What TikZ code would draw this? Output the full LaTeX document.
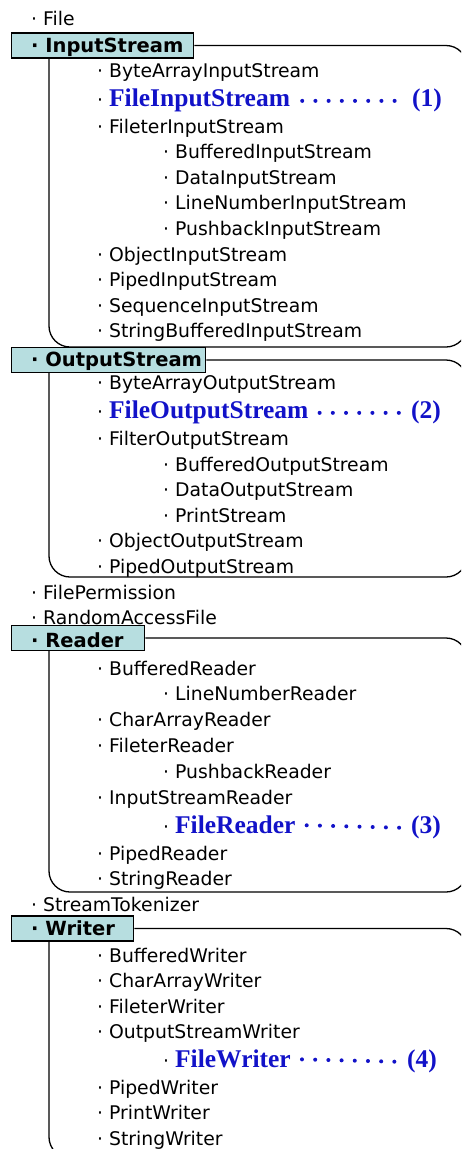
\documentclass[tikz,border=0pt]{standalone}
\usepackage{fontspec}
\setmainfont{DejaVu Sans}
\newfontfamily\keyfont{Liberation Serif}
\definecolor{boxteal}{RGB}{183,222,224}
\definecolor{keyblue}{RGB}{18,18,200}
\tikzset{
    item/.style={anchor=base west, inner sep=0pt, font=\fontsize{18.8}{20}\selectfont},
    key/.style={anchor=base west, inner sep=0pt, text=keyblue, font=\keyfont\bfseries\fontsize{25.5}{27}\selectfont},
    catbox/.style={draw, fill=boxteal, line width=1.3pt, anchor=west, minimum height=25pt, inner sep=0pt},
    cat/.style={anchor=base west, inner sep=0pt, font=\bfseries\fontsize{19.5}{20}\selectfont},
    frame/.style={line width=1.3pt, rounded corners=21pt},
    leader/.style={keyblue, line width=4pt, line cap=round, dash pattern=on 0pt off 13.2pt}
}
\newcommand{\keyname}[1]{{\color{keyblue}\keyfont\bfseries\fontsize{25.5}{27}\selectfont #1}}

\begin{document}
\begin{tikzpicture}[x=1pt, y=-1pt]
    \useasboundingbox (0,0) rectangle (461,1149);
    \clip (0,0) rectangle (461,1149);

    % java.io top level
    \node [item] (file) at (31,25) {· File};

    % InputStream family
    \node [catbox, minimum width=182pt] (inbox) at (11,45.5) {};
    \node [cat] (incat) at (31,52) {· InputStream};
    \draw [frame] (inbox.east) -- (467,0 |- inbox.east) -- (467,347) -- (49,347) -- (49,0 |- inbox.south);
    \node [item] (bais) at (97,77) {· ByteArrayInputStream};
    \node [item] (fis) at (97,106) {· \keyname{FileInputStream}};
    \node [key] (no1) at (412,106) {(1)};
    \draw [leader] ([xshift=12pt,yshift=-1pt]fis.east) -- ([xshift=-15pt,yshift=-1pt]no1.west);
    \node [item] (filis) at (97,133) {· FileterInputStream};
    \node [item] (bis) at (163,158) {· BufferedInputStream};
    \node [item] (dis) at (163,184) {· DataInputStream};
    \node [item] (lnis) at (163,209) {· LineNumberInputStream};
    \node [item] (pbis) at (163,235) {· PushbackInputStream};
    \node [item] (ois) at (97,261) {· ObjectInputStream};
    \node [item] (pis) at (97,286) {· PipedInputStream};
    \node [item] (sis) at (97,312) {· SequenceInputStream};
    \node [item] (sbis) at (97,337) {· StringBufferedInputStream};

    % OutputStream family
    \node [catbox, minimum width=194pt] (outbox) at (11,360) {};
    \node [cat] (outcat) at (31,366.5) {· OutputStream};
    \draw [frame] (outbox.east) -- (467,0 |- outbox.east) -- (467,577) -- (49,577) -- (49,0 |- outbox.south);
    \node [item] (baos) at (97,389) {· ByteArrayOutputStream};
    \node [item] (fos) at (97,418) {· \keyname{FileOutputStream}};
    \node [key] (no2) at (411,418) {(2)};
    \draw [leader] ([xshift=11pt,yshift=-1pt]fos.east) -- ([xshift=-6pt,yshift=-1pt]no2.west);
    \node [item] (filos) at (97,445) {· FilterOutputStream};
    \node [item] (bos) at (163,471) {· BufferedOutputStream};
    \node [item] (dos) at (163,496) {· DataOutputStream};
    \node [item] (ps) at (163,522) {· PrintStream};
    \node [item] (oos) at (97,547) {· ObjectOutputStream};
    \node [item] (pos) at (97,573) {· PipedOutputStream};

    \node [item] (fperm) at (31,599) {· FilePermission};
    \node [item] (raf) at (31,624) {· RandomAccessFile};

    % Reader family
    \node [catbox, minimum width=133pt] (rdbox) at (11,638) {};
    \node [cat] (rdcat) at (31,647.5) {· Reader};
    \draw [frame] (rdbox.east) -- (467,0 |- rdbox.east) -- (467,892) -- (49,892) -- (49,0 |- rdbox.south);
    \node [item] (br) at (97,675) {· BufferedReader};
    \node [item] (lnr) at (163,700) {· LineNumberReader};
    \node [item] (car) at (97,726) {· CharArrayReader};
    \node [item] (filr) at (97,752) {· FileterReader};
    \node [item] (pbr) at (163,778) {· PushbackReader};
    \node [item] (isr) at (97,804) {· InputStreamReader};
    \node [item] (fr) at (163,833) {· \keyname{FileReader}};
    \node [key] (no3) at (411,833) {(3)};
    \draw [leader] ([xshift=11pt,yshift=-1pt]fr.east) -- ([xshift=-6pt,yshift=-1pt]no3.west);
    \node [item] (pr) at (97,860) {· PipedReader};
    \node [item] (sr) at (97,885) {· StringReader};

    \node [item] (stok) at (31,911) {· StreamTokenizer};

    % Writer family
    \node [catbox, minimum width=122pt] (wrbox) at (11,928.5) {};
    \node [cat] (wrcat) at (31,935.5) {· Writer};
    \draw [frame] (wrbox.east) -- (467,0 |- wrbox.east) -- (467,1158) -- (49,1158) -- (49,0 |- wrbox.south);
    \node [item] (bw) at (97,962) {· BufferedWriter};
    \node [item] (caw) at (97,987) {· CharArrayWriter};
    \node [item] (filw) at (97,1013) {· FileterWriter};
    \node [item] (osw) at (97,1038) {· OutputStreamWriter};
    \node [item] (fw) at (163,1067) {· \keyname{FileWriter}};
    \node [key] (no4) at (407,1067) {(4)};
    \draw [leader] ([xshift=11pt,yshift=-1pt]fw.east) -- ([xshift=-5pt,yshift=-1pt]no4.west);
    \node [item] (pw) at (97,1094) {· PipedWriter};
    \node [item] (prw) at (97,1119) {· PrintWriter};
    \node [item] (sw) at (97,1145) {· StringWriter};
\end{tikzpicture}
\end{document}
